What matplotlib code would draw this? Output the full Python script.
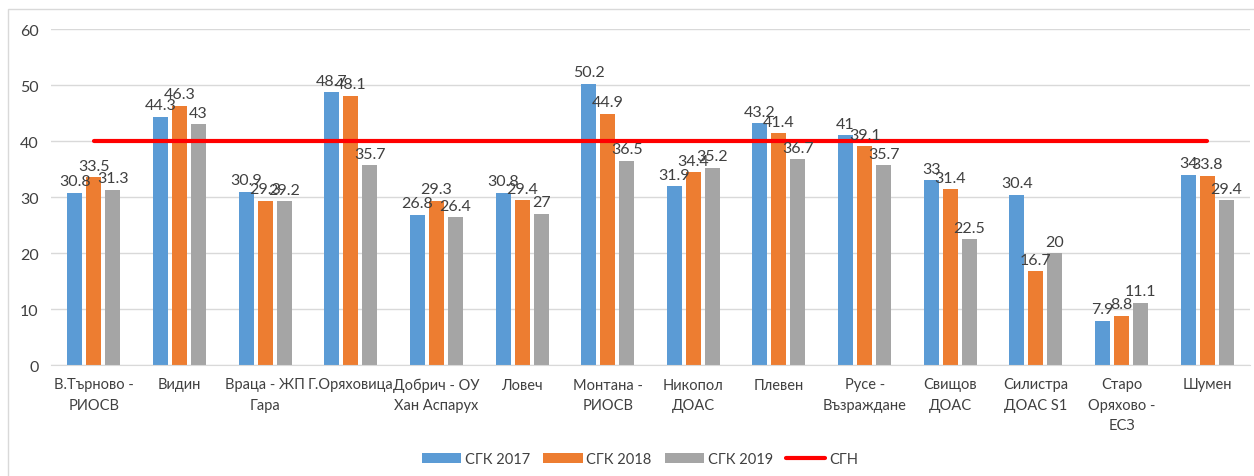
import numpy as np
import matplotlib
matplotlib.use("Agg")
import matplotlib.pyplot as plt
from matplotlib.patches import Rectangle

plt.rcParams['font.family'] = ['Lato', 'DejaVu Sans']

stations = ["В.Търново -\nРИОСВ", "Видин", "Враца - ЖП\nГара", "Г.Оряховица",
            "Добрич - ОУ\nХан Аспарух", "Ловеч", "Монтана -\nРИОСВ", "Никопол\nДОАС",
            "Плевен", "Русе -\nВъзраждане", "Свищов\nДОАС", "Силистра\nДОАС S1",
            "Старо\nОряхово -\nЕСЗ", "Шумен"]
sgk_2017 = [30.8, 44.3, 30.9, 48.7, 26.8, 30.8, 50.2, 31.9, 43.2, 41, 33, 30.4, 7.9, 34]
sgk_2018 = [33.5, 46.3, 29.3, 48.1, 29.3, 29.4, 44.9, 34.4, 41.4, 39.1, 31.4, 16.7, 8.8, 33.8]
sgk_2019 = [31.3, 43, 29.2, 35.7, 26.4, 27, 36.5, 35.2, 36.7, 35.7, 22.5, 20, 11.1, 29.4]
sgn = [40] * len(stations)

series = [("СГК 2017", sgk_2017, "#5b9bd5"),
          ("СГК 2018", sgk_2018, "#ed7d31"),
          ("СГК 2019", sgk_2019, "#a5a5a5")]

fig = plt.figure(figsize=(12.54, 4.77), dpi=100)
ax = fig.add_axes([51/1254, 1 - 366/477, 1199/1254, 336/477])

x = np.arange(len(stations))
step = 0.222
width = 0.175
txt = "#404040"

for i, (name, vals, col) in enumerate(series):
    pos = x + (i - 1) * step
    ax.bar(pos, vals, width, color=col, label=name, zorder=2)
    for p, v in zip(pos, vals):
        ax.text(p, v + 0.8, f"{v:g}", ha="center", va="bottom",
                fontsize=11.5, color=txt, zorder=4)

ax.plot(x, sgn, color="#ff0000", lw=3, label="СГН", zorder=3, solid_capstyle="round")

ax.set_xlim(-0.5, len(stations) - 0.5)
ax.set_ylim(0, 60)
ax.set_yticks(range(0, 61, 10))
ax.yaxis.grid(True, color="#d9d9d9", lw=1)
ax.set_axisbelow(True)
for s in ["top", "right", "left"]:
    ax.spines[s].set_visible(False)
ax.spines["bottom"].set_color("#d9d9d9")
ax.tick_params(axis="both", length=0, labelsize=11.5, colors=txt)
ax.tick_params(axis="y", pad=9)
ax.tick_params(axis="x", pad=9, labelsize=10.5)
ax.set_xticks(x)
ax.set_xticklabels(stations, linespacing=1.55)

# chart frame
fig.patches.append(Rectangle((8/1254, -0.1), 1.5, 1.1 - 10/477, transform=fig.transFigure,
                             fill=False, edgecolor="#d9d9d9", lw=1))

handles, labels = ax.get_legend_handles_labels()
order = [1, 2, 3, 0]
fig.legend([handles[k] for k in order], [labels[k] for k in order],
           loc="center", bbox_to_anchor=(640/1254, 1 - 460/477), ncol=4,
           frameon=False, fontsize=10.5, labelcolor=txt, handlelength=2.7,
           handleheight=0.65, handletextpad=0.25, columnspacing=0.9)

fig.savefig("out.png", dpi=100)
